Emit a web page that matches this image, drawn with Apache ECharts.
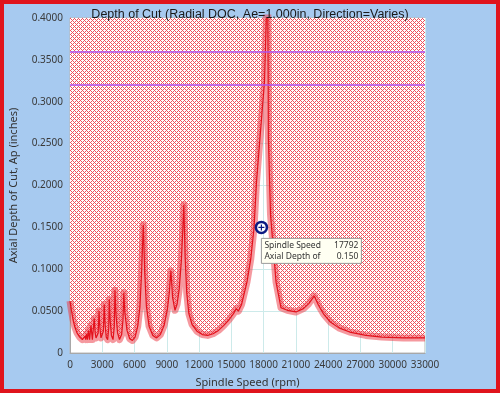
<!DOCTYPE html>
<html><head><meta charset="utf-8">
<script src="https://cdn.jsdelivr.net/npm/echarts@6/dist/echarts.min.js"></script>
<style>html,body{margin:0;padding:0;background:#a7caf0}#c{width:500px;height:393px}</style>
</head><body><div id="c"></div>
<script>
const titleText = 'Depth of Cut (Radial DOC, Ae=1.000in, Direction=Varies)';
const xName = 'Spindle Speed (rpm)';
const yName = 'Axial Depth of Cut, Ap (inches)';
const speedRpm = [0,120,280,450,650,900,1150,1300,1390,1460,1540,1620,1720,1820,1950,2080,2250,2330,2420,2520,2620,2700,2780,2880,3000,3100,3180,3260,3370,3500,3600,3650,3740,3850,4000,4120,4180,4280,4420,4600,4800,4930,5000,5100,5300,5550,5800,6050,6300,6500,6650,6814,6950,7100,7350,7700,8050,8400,8750,9050,9230,9380,9540,9760,9950,10150,10350,10480,10580,10700,10850,11050,11350,11800,12300,12800,13300,13800,14300,14800,15200,15450,15650,15950,16454,16800,17105,17337,17662,18080,18240,18360,18420,18440,18640,19150,19615,20200,21000,21700,22200,22700,23100,23600,24200,25000,26000,27500,29000,31000,33000];
const depthIn = [0.062,0.052,0.040,0.031,0.024,0.019,0.016,0.016,0.020,0.016,0.023,0.016,0.027,0.016,0.033,0.016,0.041,0.025,0.018,0.016,0.024,0.050,0.030,0.018,0.016,0.026,0.058,0.034,0.019,0.016,0.030,0.064,0.038,0.021,0.016,0.032,0.075,0.045,0.024,0.016,0.022,0.040,0.072,0.048,0.027,0.017,0.015,0.019,0.032,0.055,0.095,0.153,0.095,0.056,0.032,0.021,0.018,0.022,0.033,0.052,0.072,0.098,0.066,0.051,0.058,0.076,0.110,0.145,0.177,0.115,0.072,0.047,0.034,0.026,0.022,0.021,0.023,0.027,0.033,0.040,0.047,0.053,0.050,0.058,0.085,0.112,0.149,0.204,0.257,0.324,0.395,0.460,0.330,0.257,0.165,0.085,0.054,0.051,0.049,0.053,0.059,0.068,0.057,0.046,0.037,0.030,0.025,0.021,0.019,0.018,0.018];
const limitDepths = [0.322, 0.363];
const probeSpeed = 17792, probeDepth = 0.150;
const tipLabels = ['Spindle Speed', 'Axial Depth of'];
const tipValues = ['17792', '0.150'];

const pat = document.createElement('canvas'); pat.width = 4; pat.height = 4;
const g = pat.getContext('2d');
g.fillStyle = '#ffffff'; g.fillRect(0, 0, 4, 4);
g.fillStyle = '#f0505c';
[[0,0],[1,1],[2,2],[3,3],[1,3],[3,1]].forEach(([x, y]) => g.fillRect(x, y, 1, 1));

const pts = speedRpm.map((s, i) => [s, depthIn[i]]);
const chart = echarts.init(document.getElementById('c'), null, {renderer: 'canvas'});
const lbl = {fontFamily: 'Noto Sans', fontSize: 10, color: '#3a3a3a'};
chart.setOption({
  animation: false,
  backgroundColor: '#a7caf0',
  title: {text: titleText, left: 'center', top: 3,
    textStyle: {fontFamily: 'Liberation Sans', fontSize: 12.5, fontWeight: 'normal', color: '#1a1a1a'}},
  grid: {left: 70, right: 75, top: 18, bottom: 40, containLabel: false, outerBoundsMode: 'none',
    show: true, backgroundColor: '#ffffff', borderColor: '#b8b8b8', borderWidth: 1},
  xAxis: {type: 'value', min: 0, max: 33000, interval: 3000,
    name: xName, nameLocation: 'middle', nameGap: 24, nameTextStyle: {fontFamily: 'Noto Sans', fontSize: 11, color: '#333'},
    axisLine: {lineStyle: {color: '#a8a8a8'}}, axisTick: {show: false},
    axisLabel: Object.assign({margin: 7, hideOverlap: false, formatter: v => String(v)}, lbl),
    splitLine: {lineStyle: {color: '#cdeaea', width: 1}}},
  yAxis: {type: 'value', min: 0, max: 0.4, interval: 0.05,
    name: yName, nameLocation: 'middle', nameGap: 51, nameRotate: 90, nameTextStyle: {fontFamily: 'Noto Sans', fontSize: 11, color: '#333'},
    axisLine: {show: true, lineStyle: {color: '#a8a8a8'}}, axisTick: {show: false},
    axisLabel: Object.assign({margin: 7, formatter: v => v === 0 ? '0' : v.toFixed(4)}, lbl),
    splitLine: {lineStyle: {color: '#cdeaea', width: 1}}},
  series: [
    {type: 'line', data: pts, showSymbol: false, silent: true, z: 2,
      lineStyle: {width: 0, opacity: 0},
      areaStyle: {origin: 'end', color: {image: pat, repeat: 'repeat'}, opacity: 1}},
    {type: 'line', data: pts, showSymbol: false, silent: true, z: 3,
      lineStyle: {width: 7, color: 'rgba(236,52,64,0.5)', join: 'round'}},
    {type: 'line', data: pts, showSymbol: false, silent: true, z: 4,
      lineStyle: {width: 1.2, color: '#e3121c'},
      markLine: {silent: true, symbol: 'none', label: {show: false}, z: 10,
        lineStyle: {color: '#b050f0', width: 1.5, type: 'solid', opacity: 1},
        data: limitDepths.map(v => ({yAxis: v}))}}
  ]
});

const p = chart.convertToPixel({gridIndex: 0}, [probeSpeed, probeDepth]);
const bx = p[0], by = p[1] + 11;
chart.setOption({graphic: [
  {type: 'rect', shape: {x: 2, y: 2, width: 496, height: 389}, style: {fill: 'none', stroke: '#e0141c', lineWidth: 4}, z: 100},
  {type: 'circle', shape: {cx: p[0], cy: p[1], r: 5.5}, style: {fill: '#ffffff', stroke: '#0c1a82', lineWidth: 2.5}, z: 50},
  {type: 'line', shape: {x1: p[0] - 3, y1: p[1], x2: p[0] + 3, y2: p[1]}, style: {stroke: '#0c1a82', lineWidth: 1.2}, z: 51},
  {type: 'line', shape: {x1: p[0], y1: p[1] - 3, x2: p[0], y2: p[1] + 3}, style: {stroke: '#0c1a82', lineWidth: 1.2}, z: 51},
  {type: 'rect', shape: {x: bx, y: by, width: 100, height: 25}, style: {fill: '#fffff2', stroke: '#9a9a9a', lineWidth: 1}, z: 50},
  {type: 'text', x: bx + 3, y: by + 7, style: {text: tipLabels[0], fontFamily: 'Noto Sans', fontSize: 8.5, fill: '#333', verticalAlign: 'middle'}, z: 52},
  {type: 'text', x: bx + 3, y: by + 18, style: {text: tipLabels[1], fontFamily: 'Noto Sans', fontSize: 8.5, fill: '#333', verticalAlign: 'middle'}, z: 52},
  {type: 'text', x: bx + 97, y: by + 7, style: {text: tipValues[0], fontFamily: 'Noto Sans', fontSize: 8.5, fill: '#333', align: 'right', verticalAlign: 'middle'}, z: 52},
  {type: 'text', x: bx + 97, y: by + 18, style: {text: tipValues[1], fontFamily: 'Noto Sans', fontSize: 8.5, fill: '#333', align: 'right', verticalAlign: 'middle'}, z: 52}
]});
</script></body></html>
